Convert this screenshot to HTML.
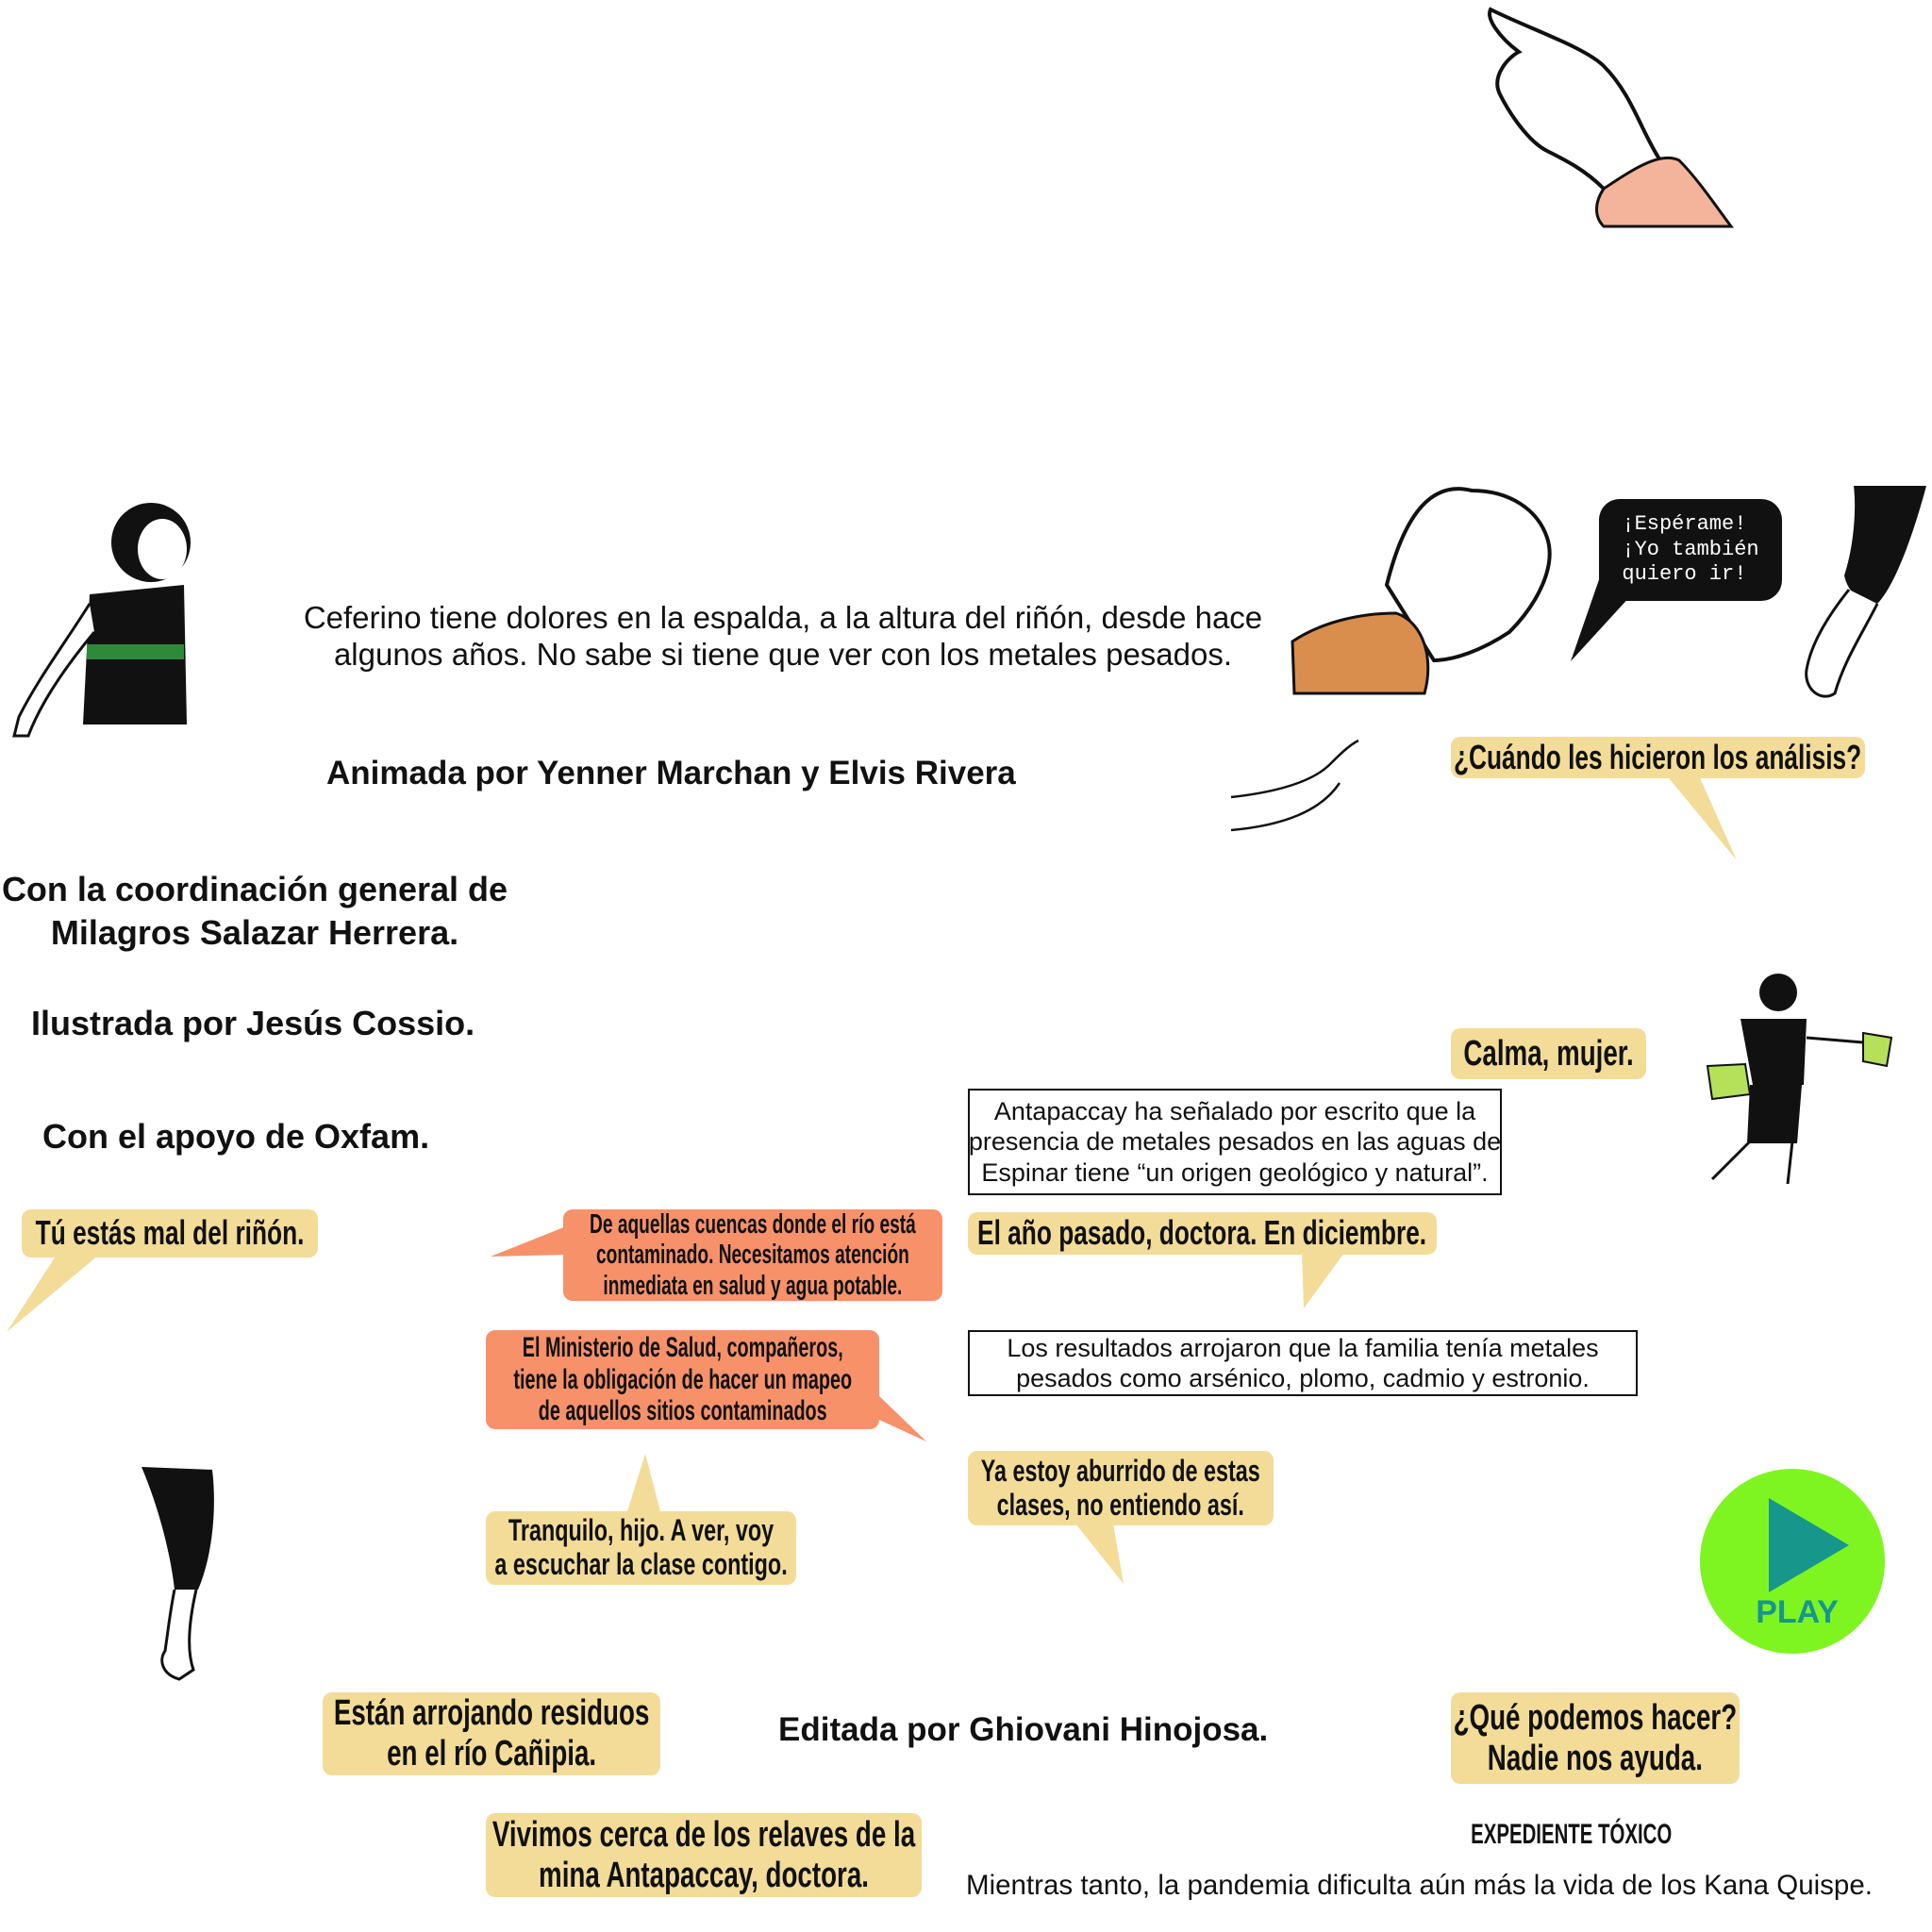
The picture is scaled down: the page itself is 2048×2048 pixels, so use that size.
<!DOCTYPE html>
<html><head><meta charset="utf-8"><style>
body{margin:0;width:2048px;height:2048px;background:#fff;position:relative;overflow:hidden;font-family:"Liberation Sans",sans-serif;}
.t{position:absolute;color:#111;white-space:nowrap;}
.b{position:absolute;border-radius:10px;display:flex;align-items:center;justify-content:center;text-align:center;font-family:"Liberation Sans",sans-serif;font-weight:bold;color:#111;line-height:1.12;white-space:nowrap;}
.b span{display:inline-block;transform:scaleX(.73);white-space:nowrap;}
.y{background:#f2dc98;}
.o{background:#f7916a;}
.w{position:absolute;border:2px solid #111;background:#fff;text-align:center;font-size:27px;line-height:1.2;color:#111;display:flex;align-items:center;justify-content:center;white-space:nowrap;}
svg{position:absolute;left:0;top:0;}
</style></head><body>
<svg width="2048" height="2048">
<g fill="#f2dc98">
<polygon points="60,1330 105,1330 7,1412"/>
<polygon points="665,1602 700,1602 684,1541"/>
<polygon points="1765,820 1800,820 1841,912"/>
<polygon points="1380,1328 1425,1328 1382,1387"/>
<polygon points="1140,1615 1180,1615 1191,1679"/>
</g>
<g fill="#f7916a">
<polygon points="600,1300 600,1330 520,1332"/>
<polygon points="932,1480 932,1505 982,1528"/>
</g>
<polygon points="1700,600 1730,630 1665,701" fill="#111"/>
<path d="M1580,10 C1620,30 1680,50 1700,70 C1730,100 1740,140 1760,170 L1770,210 C1750,220 1720,220 1700,200 C1680,180 1660,170 1640,160 C1620,150 1600,120 1590,100 C1580,80 1600,60 1610,55 C1590,40 1575,20 1580,10 Z" fill="#fff" stroke="#111" stroke-width="4"/>
<path d="M1700,200 C1730,180 1760,160 1780,170 C1800,190 1820,220 1835,240 L1700,240 C1690,230 1690,215 1700,200Z" fill="#f4b49c" stroke="#111" stroke-width="3"/>
<path d="M1470,620 C1490,540 1520,510 1560,520 C1600,520 1630,540 1640,570 C1650,600 1630,640 1600,670 C1570,690 1540,700 1520,700 Z" fill="#fff" stroke="#111" stroke-width="4"/>
<path d="M1370,680 C1400,660 1440,650 1480,650 C1510,660 1520,700 1510,735 L1372,735 Z" fill="#d98e4e" stroke="#111" stroke-width="3"/>
<path d="M1965,515 L2042,515 C2030,560 2010,620 1990,640 C1970,640 1958,625 1955,610 C1965,580 1968,540 1965,515Z" fill="#111"/>
<path d="M1960,625 C1940,650 1920,680 1915,710 C1912,730 1930,745 1945,735 C1955,700 1975,670 1990,640" fill="#fff" stroke="#111" stroke-width="3"/>
<path d="M1305,845 C1350,840 1390,830 1410,810 C1420,800 1430,790 1440,785 M1305,880 C1360,875 1400,860 1420,830" fill="none" stroke="#111" stroke-width="2.5"/>
<circle cx="160" cy="575" r="42" fill="#111"/>
<ellipse cx="172" cy="582" rx="26" ry="32" fill="#fff"/>
<path d="M95,630 L195,620 L198,768 L88,768 Z" fill="#111"/>
<rect x="92" y="683" width="103" height="16" fill="#2d8a3a"/>
<path d="M95,640 C70,680 40,720 20,760 L15,780 L30,780 C45,740 75,700 100,670" fill="#fff" stroke="#111" stroke-width="3"/>
<path d="M150,1555 L225,1558 C230,1600 225,1650 210,1685 L185,1685 C180,1640 165,1590 150,1555Z" fill="#111"/>
<path d="M185,1685 C180,1710 178,1730 175,1750 C168,1760 172,1775 190,1780 L205,1770 C198,1750 200,1720 208,1685" fill="#fff" stroke="#111" stroke-width="3"/>
<circle cx="1885" cy="1052" r="20" fill="#111"/>
<path d="M1845,1080 L1915,1080 L1912,1150 L1858,1150 Z" fill="#111"/>
<path d="M1855,1150 L1910,1150 L1905,1212 L1852,1212 Z" fill="#111"/>
<path d="M1855,1210 L1815,1250 M1900,1210 L1895,1255" stroke="#111" stroke-width="3"/>
<path d="M1915,1100 L1975,1105" stroke="#111" stroke-width="3"/>
<path d="M1975,1095 L2005,1100 L2000,1130 L1975,1125Z" fill="#b4e05a" stroke="#111" stroke-width="2"/>
<path d="M1810,1130 L1850,1128 L1855,1160 L1815,1165Z" fill="#b4e05a" stroke="#111" stroke-width="2"/>
<circle cx="1900" cy="1655" r="98" fill="#7ef520"/>
<polygon points="1875,1588 1960,1638 1875,1688" fill="#17968c"/>
</svg>
<div class="t" style="left:0;width:1660px;top:635px;text-align:center;font-size:33px;line-height:39px;">Ceferino tiene dolores en la espalda, a la altura del riñón, desde hace<br>algunos años. No sabe si tiene que ver con los metales pesados.</div>
<div class="t" style="left:346px;top:800px;font-size:35px;font-weight:bold;">Animada por Yenner Marchan y Elvis Rivera</div>
<div class="t" style="left:0;width:540px;top:920px;text-align:center;font-size:36px;font-weight:bold;line-height:46px;">Con la coordinación general de<br>Milagros Salazar Herrera.</div>
<div class="t" style="left:33px;top:1064px;font-size:36px;font-weight:bold;">Ilustrada por Jesús Cossio.</div>
<div class="t" style="left:45px;top:1184px;font-size:36px;font-weight:bold;">Con el apoyo de Oxfam.</div>
<div class="t" style="left:825px;top:1814px;font-size:35px;font-weight:bold;">Editada por Ghiovani Hinojosa.</div>
<div class="t" style="left:1466px;top:1928px;width:400px;text-align:center;font-size:30px;font-weight:bold;"><span style="display:inline-block;transform:scaleX(.68)">EXPEDIENTE TÓXICO</span></div>
<div class="t" style="left:1024px;top:1982px;font-size:29.5px;">Mientras tanto, la pandemia dificulta aún más la vida de los Kana Quispe.</div>
<div class="t" style="left:1905px;top:1690px;transform:translateX(-50%);font-size:34px;font-weight:bold;color:#17968c;">PLAY</div>
<div class="b" style="left:1695px;top:529px;width:194px;height:108px;background:#111;color:#fff;border-radius:22px;font-family:'Liberation Mono',monospace;font-weight:normal;font-size:22px;line-height:1.2;text-align:left;">¡Espérame!<br>¡Yo también<br>quiero ir!</div>
<div class="b y" style="left:23px;top:1282px;width:314px;height:51px;font-size:36px;"><span>Tú estás mal del riñón.</span></div>
<div class="b o" style="left:597px;top:1282px;width:402px;height:97px;font-size:29px;"><span style="transform:scaleX(.66)">De aquellas cuencas donde el río está<br>contaminado. Necesitamos atención<br>inmediata en salud y agua potable.</span></div>
<div class="b o" style="left:515px;top:1410px;width:417px;height:105px;font-size:30px;"><span style="transform:scaleX(.66)">El Ministerio de Salud, compañeros,<br>tiene la obligación de hacer un mapeo<br>de aquellos sitios contaminados</span></div>
<div class="b y" style="left:515px;top:1602px;width:329px;height:78px;font-size:32px;"><span>Tranquilo, hijo. A ver, voy<br>a escuchar la clase contigo.</span></div>
<div class="b y" style="left:342px;top:1794px;width:358px;height:88px;font-size:38px;"><span>Están arrojando residuos<br>en el río Cañipia.</span></div>
<div class="b y" style="left:515px;top:1922px;width:462px;height:89px;font-size:38px;"><span>Vivimos cerca de los relaves de la<br>mina Antapaccay, doctora.</span></div>
<div class="w" style="left:1026px;top:1154px;width:562px;height:109px;">Antapaccay ha señalado por escrito que la<br>presencia de metales pesados en las aguas de<br>Espinar tiene “un origen geológico y natural”.</div>
<div class="b y" style="left:1026px;top:1285px;width:497px;height:45px;font-size:36px;"><span>El año pasado, doctora. En diciembre.</span></div>
<div class="w" style="left:1026px;top:1410px;width:706px;height:66px;">Los resultados arrojaron que la familia tenía metales<br>pesados como arsénico, plomo, cadmio y estronio.</div>
<div class="b y" style="left:1026px;top:1538px;width:324px;height:79px;font-size:32px;"><span>Ya estoy aburrido de estas<br>clases, no entiendo así.</span></div>
<div class="b y" style="left:1538px;top:1090px;width:207px;height:54px;font-size:38px;"><span>Calma, mujer.</span></div>
<div class="b y" style="left:1538px;top:781px;width:439px;height:44px;font-size:36px;"><span>¿Cuándo les hicieron los análisis?</span></div>
<div class="b y" style="left:1538px;top:1794px;width:306px;height:97px;font-size:38px;"><span>¿Qué podemos hacer?<br>Nadie nos ayuda.</span></div>
</body></html>
